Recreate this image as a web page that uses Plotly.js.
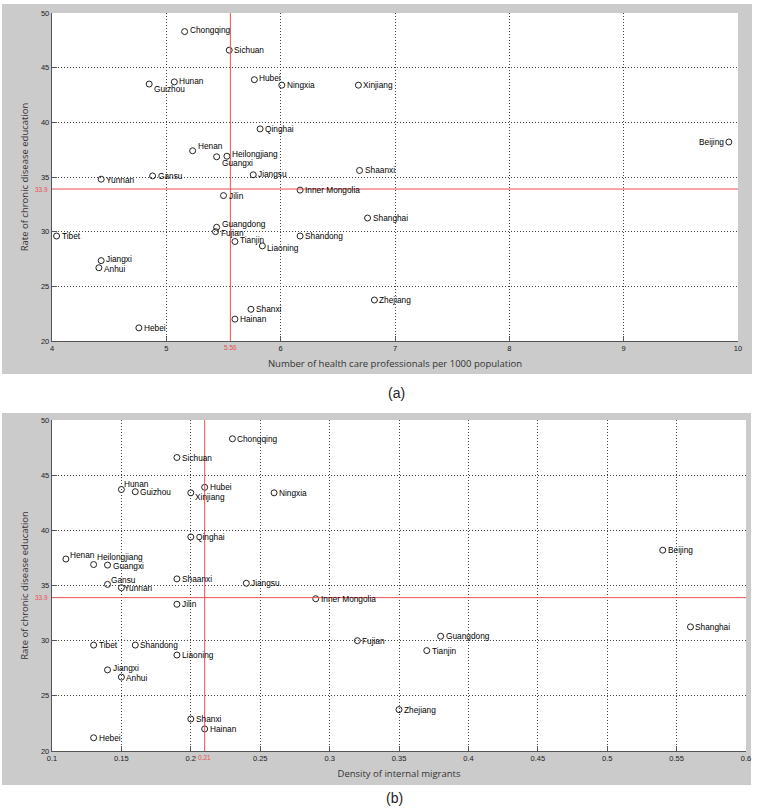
<!DOCTYPE html>
<html>
<head>
<meta charset="utf-8">
<script src="https://cdn.plot.ly/plotly-3.0.1.min.js"></script>
<style>html,body{margin:0;padding:0;background:#fff;}#chart{width:759px;height:810px;}</style>
</head>
<body>
<div id="chart"></div>
<script>
// ---- data ----
const provinces = ["Beijing","Tianjin","Hebei","Shanxi","Inner Mongolia","Liaoning","Jilin","Heilongjiang",
  "Shanghai","Jiangsu","Zhejiang","Anhui","Fujian","Jiangxi","Shandong","Henan","Hubei","Hunan",
  "Guangdong","Guangxi","Hainan","Chongqing","Sichuan","Guizhou","Yunnan","Tibet","Shaanxi","Gansu",
  "Qinghai","Ningxia","Xinjiang"];
const eduRate = [38.2,29.1,21.2,22.9,33.8,28.7,33.3,36.9,
  31.25,35.2,23.75,26.7,30.0,27.35,29.6,37.4,43.9,43.7,
  30.4,36.85,22.0,48.3,46.6,43.5,34.8,29.6,35.6,35.1,
  39.4,43.4,43.4];
const healthPros = [9.92,5.60,4.76,5.74,6.17,5.84,5.50,5.53,
  6.76,5.76,6.82,4.41,5.43,4.43,6.17,5.23,5.77,5.07,
  5.44,5.44,5.60,5.16,5.55,4.85,4.43,4.04,6.69,4.88,
  5.82,6.01,6.68];
const migrantDensity = [0.54,0.37,0.13,0.20,0.29,0.19,0.19,0.13,
  0.56,0.24,0.35,0.15,0.32,0.14,0.16,0.11,0.21,0.15,
  0.38,0.14,0.21,0.23,0.19,0.16,0.15,0.13,0.19,0.14,
  0.20,0.26,0.20];
const meanRate = 33.9;
const medianHealth = 5.56;
const medianMigrant = 0.21;
const xTicksA = [4,5,6,7,8,9,10];
const xTicksB = [0.1,0.15,0.2,0.25,0.3,0.35,0.4,0.45,0.5,0.55,0.6];
const yTicks = [20,25,30,35,40,45,50];

// ---- label placement (style only): [xshift, yshift] in px; negative xshift = label on the left ----
const offA = {"Chongqing":[5,1.5],"Guizhou":[5,-5],"Hunan":[5,0.7],"Hubei":[5,1.6],"Henan":[5,4.3],
  "Guangxi":[5,-6.3],"Heilongjiang":[5,2],"Jiangsu":[5,1.3],"Yunnan":[5,-1.3],"Guangdong":[5,2.8],
  "Fujian":[5,-1.8],"Tianjin":[5,1.7],"Liaoning":[5,-2.3],"Jiangxi":[5,1.5],"Anhui":[5,-1.7],
  "Beijing":[-5,0]};
const offB = {"Hunan":[3,6],"Xinjiang":[4,-3.7],"Henan":[4,4.3],"Heilongjiang":[3,7.7],"Gansu":[3.5,4.3],
  "Guangxi":[5,-1],"Yunnan":[3,0],"Jiangxi":[5,1.7],"Anhui":[5,-0.5]};

const markerStyle = {symbol:"circle-open", size:6, color:"#222", line:{width:1, color:"#222"}};
const labelFont = {family:"Arial, Liberation Sans, sans-serif", size:8.3, color:"#000"};

const traces = [
  {type:"scatter", mode:"markers", x:healthPros, y:eduRate, marker:markerStyle, xaxis:"x", yaxis:"y", cliponaxis:false, hoverinfo:"skip"},
  {type:"scatter", mode:"markers", x:migrantDensity, y:eduRate, marker:markerStyle, xaxis:"x2", yaxis:"y2", cliponaxis:false, hoverinfo:"skip"}
];

function labels(xs, off, xr, yr) {
  return provinces.map((p, i) => {
    const o = off[p] || [5, 0];
    return {xref:xr, yref:yr, x:xs[i], y:eduRate[i], text:p, showarrow:false,
      xanchor: o[0] < 0 ? "right" : "left", yanchor:"middle", xshift:o[0], yshift:o[1],
      borderpad:0, borderwidth:0, font:labelFont};
  });
}

const W = 759, H = 810;
const px = v => v / W, py = v => 1 - v / H;
const gridStyle = {showgrid:true, gridcolor:"#444", gridwidth:1, griddash:"1px,2px", zeroline:false,
  showline:true, linecolor:"#555", linewidth:1.2, ticks:"inside", ticklen:5, tickcolor:"#555",
  tickfont:{family:"Arial, Liberation Sans, sans-serif", size:7.5, color:"#222"}, mirror:false};
const titleFont = {family:"Open Sans, sans-serif", size:9.5, color:"#333"};
const red = "rgb(232,80,80)";
const redFont = {family:"Arial, sans-serif", size:6.5, color:red};

const layout = {
  width:W, height:H, margin:{l:0,r:0,t:0,b:0}, paper_bgcolor:"#fff", plot_bgcolor:"#fff", showlegend:false,
  xaxis: Object.assign({}, gridStyle, {domain:[px(52), px(738)], range:[4,10], tickvals:xTicksA, anchor:"y",
    title:{text:"Number of health care professionals per 1000 population", font:titleFont, standoff:8}}),
  yaxis: Object.assign({}, gridStyle, {domain:[py(341), py(13)], range:[20,50], tickvals:yTicks, anchor:"x",
    title:{text:"Rate of chronic disease education", font:titleFont, standoff:10}}),
  xaxis2: Object.assign({}, gridStyle, {domain:[px(52), px(746)], range:[0.1,0.6], tickvals:xTicksB, anchor:"y2",
    title:{text:"Density of internal migrants", font:titleFont, standoff:8}}),
  yaxis2: Object.assign({}, gridStyle, {domain:[py(751), py(420)], range:[20,50], tickvals:yTicks, anchor:"x2",
    title:{text:"Rate of chronic disease education", font:titleFont, standoff:10}}),
  shapes:[
    {type:"rect", xref:"paper", yref:"paper", x0:px(2), x1:px(752), y0:py(374), y1:py(4), fillcolor:"#cbcbcb", line:{width:0}, layer:"below"},
    {type:"rect", xref:"paper", yref:"paper", x0:px(2), x1:px(751), y0:py(785), y1:py(413), fillcolor:"#cbcbcb", line:{width:0}, layer:"below"},
    {type:"rect", xref:"x domain", yref:"y domain", x0:0, x1:1, y0:0, y1:1, fillcolor:"#fff", line:{width:0}, layer:"below"},
    {type:"rect", xref:"x2 domain", yref:"y2 domain", x0:0, x1:1, y0:0, y1:1, fillcolor:"#fff", line:{width:0}, layer:"below"},
    {type:"line", xref:"x", yref:"y domain", x0:medianHealth, x1:medianHealth, y0:0, y1:1, line:{color:red, width:1}},
    {type:"line", xref:"x domain", yref:"y", x0:0, x1:1, y0:meanRate, y1:meanRate, line:{color:red, width:1}},
    {type:"line", xref:"x2", yref:"y2 domain", x0:medianMigrant, x1:medianMigrant, y0:0, y1:1, line:{color:red, width:1}},
    {type:"line", xref:"x2 domain", yref:"y2", x0:0, x1:1, y0:meanRate, y1:meanRate, line:{color:red, width:1}}
  ],
  annotations: [].concat(
    labels(healthPros, offA, "x", "y"),
    labels(migrantDensity, offB, "x2", "y2"),
    [
      {xref:"x domain", yref:"y", x:0, y:meanRate, text:String(meanRate), showarrow:false, xanchor:"right", xshift:-2, font:redFont},
      {xref:"x", yref:"y domain", x:medianHealth, y:0, text:String(medianHealth), showarrow:false, yanchor:"top", yshift:-1, font:redFont},
      {xref:"x2 domain", yref:"y2", x:0, y:meanRate, text:String(meanRate), showarrow:false, xanchor:"right", xshift:-2, font:redFont},
      {xref:"x2", yref:"y2 domain", x:medianMigrant, y:0, text:String(medianMigrant), showarrow:false, yanchor:"top", yshift:-1, font:redFont},
      {xref:"paper", yref:"paper", x:px(396), y:py(393), text:"(a)", showarrow:false, xanchor:"center", yanchor:"middle",
       font:{family:"Arial, Liberation Sans, sans-serif", size:14, color:"#222"}},
      {xref:"paper", yref:"paper", x:px(394), y:py(798), text:"(b)", showarrow:false, xanchor:"center", yanchor:"middle",
       font:{family:"Arial, Liberation Sans, sans-serif", size:14, color:"#222"}}
    ])
};

Plotly.newPlot("chart", traces, layout, {displayModeBar:false, staticPlot:true});
</script>
</body>
</html>
